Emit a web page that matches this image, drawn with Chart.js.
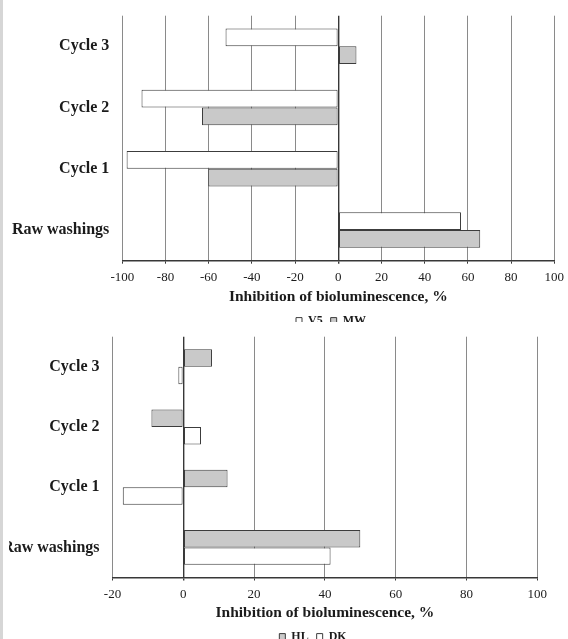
<!DOCTYPE html>
<html>
<head>
<meta charset="utf-8">
<script src="https://cdn.jsdelivr.net/npm/chart.js@4.4.1/dist/chart.umd.min.js"></script>
<style>
  html, body { margin: 0; padding: 0; background: #ffffff; }
  body { width: 568px; height: 639px; position: relative; overflow: hidden; }
  .panel { position: absolute; overflow: hidden; }
  .panel canvas { position: absolute; top: 0; }
  #topPanel { left: 0; top: 0; width: 568px; height: 323px; }
  #topPanel canvas { left: 0; }
  #bottomPanel { left: 9px; top: 322px; width: 559px; height: 317px; background: #ffffff; }
  #bottomPanel canvas { left: -9px; }
  .edge { position: absolute; left: 0; top: 0; width: 3px; height: 639px; background: #d6d6d6; }
</style>
</head>
<body>
<div class="panel" id="topPanel"><canvas id="topChart" width="568" height="340"></canvas></div>
<div class="panel" id="bottomPanel"><canvas id="bottomChart" width="568" height="340"></canvas></div>
<div class="edge"></div>
<script>
// Categories, listed top to bottom
const categories = ['Cycle 3', 'Cycle 2', 'Cycle 1', 'Raw washings'];

// Upper panel: V5 and MW samples
const v5Values = [-52.2, -91.1, -98.0, 56.8];
const mwValues = [8.4, -63.1, -60.2, 65.7];

// Lower panel: HL and DK samples
const hlValues = [8.1, -9.0, 12.5, 50.0];
const dkValues = [-1.4, 5.0, -17.1, 41.6];

// Value axis: [min, max, step]
const upperAxis = [-100, 100, 20];
const lowerAxis = [-20, 100, 20];

const axisTitle = 'Inhibition of bioluminescence, %';

const SERIF = '"Liberation Serif", "Times New Roman", Times, serif';
const INK = '#1b1b1b';
const GRID = '#8a8a8a';
const AXIS = '#383838';
const BAR_EDGE = '#3c3c3c';
const FILL_WHITE = '#ffffff';
const FILL_GRAY = '#c9c9c9';

// Moves the legend row so that it is centred on a given x position
const legendCentre = {
  id: 'legendCentre',
  afterLayout(chart, args, opts) {
    const lg = chart.legend;
    if (!lg || opts.x == null) return;
    const dx = opts.x - (lg.left + lg.right) / 2;
    lg.left += dx;
    lg.right += dx;
  }
};

function makeChart(id, cfg) {
  return new Chart(document.getElementById(id), {
    type: 'bar',
    plugins: [legendCentre],
    data: {
      labels: categories,
      datasets: cfg.series.map(s => ({
        label: s.label,
        data: s.data,
        backgroundColor: s.fill,
        borderColor: BAR_EDGE,
        borderWidth: 1,
        borderSkipped: false,
        categoryPercentage: 0.58,
        barPercentage: 1.0
      }))
    },
    options: {
      indexAxis: 'y',
      responsive: false,
      animation: false,
      events: [],
      layout: { padding: cfg.padding },
      plugins: {
        tooltip: { enabled: false },
        legendCentre: { x: cfg.legendX },
        legend: {
          position: 'bottom',
          labels: {
            boxWidth: 6,
            boxHeight: 6,
            padding: 8,
            color: INK,
            font: { family: SERIF, size: 12, weight: 'bold' }
          }
        }
      },
      scales: {
        x: {
          min: cfg.range[0],
          max: cfg.range[1],
          ticks: {
            stepSize: cfg.range[2],
            color: INK,
            padding: 5.8,
            font: { family: SERIF, size: 13 }
          },
          grid: {
            color: c => (c.tick && c.tick.value === 0) ? AXIS : GRID,
            lineWidth: c => (c.tick && c.tick.value === 0) ? 1.4 : 1,
            tickLength: 3,
            tickColor: AXIS
          },
          border: { display: true, color: AXIS, width: 1.4 },
          title: {
            display: true,
            text: axisTitle,
            color: INK,
            padding: { top: 0, bottom: 0 },
            font: { family: SERIF, size: 15.5, weight: 'bold' }
          },
          afterFit: s => {
            s.height = cfg.xHeight;
            s.paddingLeft = 0;
            s.paddingRight = 0;
          }
        },
        y: {
          grid: { display: false, drawTicks: false, tickLength: 0 },
          border: { display: false },
          ticks: {
            color: INK,
            padding: 13,
            font: { family: SERIF, size: 16, weight: 'bold' }
          },
          afterFit: s => {
            s.width = cfg.yWidth;
            s.paddingTop = 0;
            s.paddingBottom = 0;
          }
        }
      }
    }
  });
}

makeChart('topChart', {
  series: [
    { label: 'V5', data: v5Values, fill: FILL_WHITE },
    { label: 'MW', data: mwValues, fill: FILL_GRAY }
  ],
  range: upperAxis,
  padding: { left: 0, right: 13.7, top: 15.7, bottom: 3.4 },
  yWidth: 122.3,
  xHeight: 45.9,
  legendX: 331
});

makeChart('bottomChart', {
  series: [
    { label: 'HL', data: hlValues, fill: FILL_GRAY },
    { label: 'DK', data: dkValues, fill: FILL_WHITE }
  ],
  range: lowerAxis,
  padding: { left: 0, right: 30.7, top: 14.7, bottom: 9.4 },
  yWidth: 112.5,
  xHeight: 45.1,
  legendX: 313
});
</script>
</body>
</html>
